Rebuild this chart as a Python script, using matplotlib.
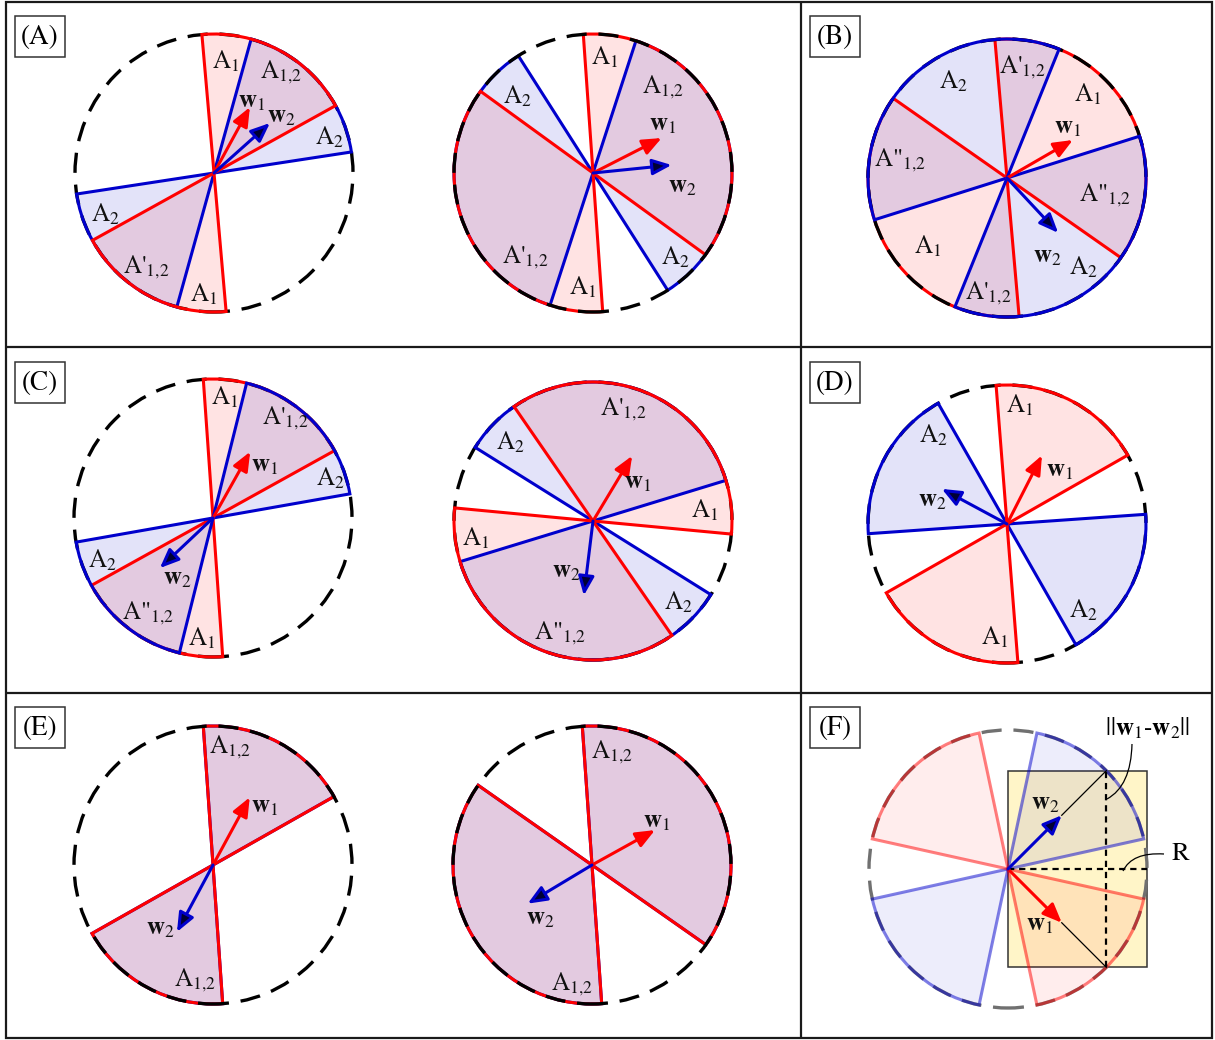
import matplotlib
matplotlib.use("Agg")
import numpy as np
import matplotlib.pyplot as plt
from matplotlib.colors import to_rgba
from matplotlib.patches import Wedge, Circle, Rectangle, FancyArrowPatch, PathPatch
from matplotlib.path import Path

plt.rcParams["mathtext.fontset"] = "stix"
plt.rcParams["font.family"] = ["STIXGeneral", "DejaVu Serif"]
plt.rcParams["lines.scale_dashes"] = False

# ------------------------------------------------------------------ data
DISCS = ["A-left", "A-right", "B", "C-left", "C-right", "D", "E-left", "E-right", "F"]

# angular extent (deg, counter-clockwise from +x) of the w1 region and of the
# w2 region; every region comes together with its point-reflected copy
W1_REGION = [(29, 95), (-36, 94), (-35, 95), (29, 94), (-5.4, 124.6),
             (29.7, 94.5), (29.5, 94), (-35, 94), (-78, -12.5)]
W2_REGION = [(8.7, 74.5), (-57.5, 72), (68, 197.5), (10, 76), (17, 148),
             (119.7, 184), (29.5, 94), (-35, 94), (12.5, 78)]

# weight vectors: direction (deg) and length (px)
W1_ANGLE = [61.4, 27, 30, 60.7, 59, 63, 61.5, 29, -45]
W1_LEN = [75, 77, 76, 76, 76, 77, 77, 72, 76]
W2_ANGLE = [41.8, 5.8, -47, 223.3, 263, 151.7, 241.7, 211, 45]
W2_LEN = [75, 79, 75, 73, 75, 74, 76, 75, 76]

W1 = r"$\mathbf{w}_1$"
W2 = r"$\mathbf{w}_2$"
A1 = "A$_1$"
A2 = "A$_2$"
A12 = "A$_{1{,}2}$"
A12p = "A'$_{1{,}2}$"
A12pp = 'A"$_{1{,}2}$'

DISC_LABELS = [
    [A1, A12, W1, W2, A2, A2, A12p, A1],
    [A1, A12, W1, W2, A2, A12p, A1, A2],
    [A2, A12p, A1, W1, A12pp, A12pp, A1, W2, A2, A12p],
    [A1, A12p, W1, A2, A2, W2, A12pp, A1],
    [A12p, A2, W1, A1, A1, W2, A2, A12pp],
    [A1, A2, W1, W2, A2, A1],
    [A12, W1, W2, A12],
    [A12, W1, W2, A12],
    [W2, W1],
]

PANEL_TAGS = ["(A)", "(B)", "(C)", "(D)", "(E)", "(F)"]
NORM_TEXT = r"||$\mathbf{w}_1$-$\mathbf{w}_2$||"
RADIUS_TEXT = "R"

# ---------------------------------------------------------------- layout
W, H = 1215, 1040
RADIUS = 139
CENTERS = [(214, 173), (593, 173), (1007, 178), (213, 518), (593, 521),
           (1007, 524), (213, 865), (592, 865), (1008, 869)]
# stacking of dashed outline (d), w2 outline (b) and w1 outline (r)
LAYERS = ["dbr", "brd", "rdb", "drb", "dbr", "dbr", "brd", "brd", "dbr"]
# label offsets from the disc centre (px, y up)
LABEL_OFFSETS = [
    [(12, 111), (67, 101), (38, 71), (67, 56), (115, 35), (-109, -42), (-68, -94), (-10, -122)],
    [(12, 115), (70, 86), (70, 48), (89, -14), (-76, 76), (-68, -84), (-10, -115), (82, -85)],
    [(-54, 96), (15, 111), (81, 83), (61, 50), (-107, 18), (98, -17), (-79, -69), (40, -79),
     (76, -90), (-19, -115)],
    [(12, 120), (72, 100), (52, 52), (117, 39), (-111, -43), (-36, -61), (-65, -95), (-11, -121)],
    [(30, 112), (-83, 78), (45, 38), (112, 10), (-117, -18), (-27, -51), (85, -82), (-33, -112)],
    [(13, 118), (-74, 88), (53, 53), (-75, 23), (76, -87), (-12, -114)],
    [(17, 118), (52, 58), (-53, -64), (-18, -115)],
    [(20, 113), (65, 43), (-52, -54), (-20, -119)],
    [(37, 65), (32, -56)],
]
TAG_BOXES = [(15, 16), (810, 16), (15, 362), (810, 362), (15, 707), (810, 707)]
TAG_W, TAG_H = 50, 41

RED = "#ff0000"
BLUE = "#0000cc"
HEAD_BLUE = "#000035"
LW = 2.2
FS = 18


def up(x, y):
    return x, H - y


fig = plt.figure(figsize=(W / 100, H / 100), dpi=100)
ax = fig.add_axes([0, 0, 1, 1])
ax.set_xlim(0, W)
ax.set_ylim(0, H)
ax.axis("off")

# frame and panel dividers
frame_kw = dict(color="#1a1a1a", lw=1.6, solid_capstyle="butt", zorder=10)
ax.add_patch(Rectangle(up(6, 1038), 1206, 1036, fill=False, ec="#1a1a1a", lw=1.6, zorder=10))
for yy in (347, 693):
    ax.plot([6, 1212], [H - yy, H - yy], **frame_kw)
ax.plot([801, 801], [H - 2, H - 1038], **frame_kw)

# panel tags
for tag, (bx, by) in zip(PANEL_TAGS, TAG_BOXES):
    ax.add_patch(Rectangle(up(bx, by + TAG_H), TAG_W, TAG_H, fill=False,
                           ec="#333333", lw=1.1, zorder=10))
    ax.text(*up(bx + TAG_W / 2, by + TAG_H / 2 + 1), tag, fontsize=19.5,
            ha="center", va="center", zorder=11)


def arrow(x0, y0, ang, length, ec, fc, z=8):
    t = np.deg2rad(ang)
    x1, y1 = x0 + length * np.cos(t), y0 + length * np.sin(t)
    ax.add_patch(FancyArrowPatch((x0, y0), (x1, y1),
                                 arrowstyle="-|>,head_length=11.5,head_width=4.8",
                                 mutation_scale=1, lw=LW, ec=ec, fc=fc,
                                 shrinkA=0, shrinkB=0, zorder=z))
    return x1, y1


for i, name in enumerate(DISCS):
    cx, cy = up(*CENTERS[i])
    faint = name == "F"
    fill_alpha = 0.07 if faint else 0.11
    edge_alpha = 0.5 if faint else 1.0
    z = {k: 2 + LAYERS[i].index(k) for k in "drb"}

    ax.add_patch(Circle((cx, cy), RADIUS, fill=False,
                        ec="#707070" if faint else "black", lw=2.4,
                        ls=(3, (14.5, 8.5)), zorder=z["d"]))
    for (a, b), col, key in ((W1_REGION[i], RED, "r"), (W2_REGION[i], BLUE, "b")):
        for shift in (0, 180):
            ax.add_patch(Wedge((cx, cy), RADIUS, a + shift, b + shift,
                               fc=to_rgba(col, fill_alpha), ec="none", zorder=1))
            ax.add_patch(Wedge((cx, cy), RADIUS, a + shift, b + shift, fill=False,
                               ec=to_rgba(col, edge_alpha), lw=LW,
                               joinstyle="miter", zorder=z[key]))

    t1 = arrow(cx, cy, W1_ANGLE[i], W1_LEN[i], RED, RED)
    t2 = arrow(cx, cy, W2_ANGLE[i], W2_LEN[i], BLUE, HEAD_BLUE)

    for txt, (dx, dy) in zip(DISC_LABELS[i], LABEL_OFFSETS[i]):
        ax.text(cx + dx, cy + dy, txt, fontsize=FS, ha="center", va="center",
                color="#111111", zorder=9)

    if faint:
        s = RADIUS * np.sin(np.pi / 4)
        c = RADIUS * np.cos(np.pi / 4)
        ax.add_patch(Rectangle((cx, cy - s), RADIUS, 2 * s, fc="#fff5c8",
                               ec="#333333", lw=1.1, zorder=0.5))
        dot = dict(color="black", lw=1.6, ls=(0, (4.5, 3.5)), zorder=6)
        ax.plot([cx + c, cx + c], [cy - s, cy + s], **dot)
        ax.plot([cx, cx + RADIUS], [cy, cy], **dot)
        thin = dict(color="black", lw=0.9, zorder=6)
        ax.plot([t2[0], cx + c], [t2[1], cy + s], **thin)
        ax.plot([t1[0], cx + c], [t1[1], cy - s], **thin)
        for pts in ([(1132, 744), (1131, 786), (1107, 799)],
                    [(1164, 854), (1132, 852), (1123, 871)]):
            verts = [up(*p) for p in pts]
            ax.add_patch(PathPatch(Path(verts, [Path.MOVETO, Path.CURVE3, Path.CURVE3]),
                                   fill=False, ec="black", lw=0.9, zorder=6))
        ax.text(*up(1148, 729), NORM_TEXT, fontsize=FS, ha="center", va="center", zorder=9)
        ax.text(*up(1180, 854), RADIUS_TEXT, fontsize=19, ha="center", va="center", zorder=9)

fig.savefig("out.png", dpi=100)
